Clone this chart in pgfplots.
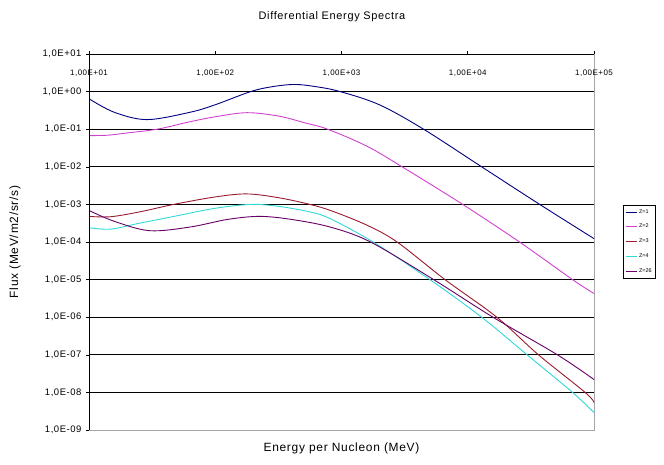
\documentclass[border=0pt]{standalone}
\usepackage{pgfplots}
\pgfplotsset{compat=1.18}
\usepackage{fontspec}
\setmainfont{Liberation Sans}
\newfontfamily\widefont[LetterSpace=6]{Liberation Sans}
\definecolor{zA}{HTML}{000080}
\definecolor{zB}{HTML}{D040D0}
\definecolor{zC}{HTML}{9B1B30}
\definecolor{zD}{HTML}{30D8D8}
\definecolor{zE}{HTML}{660066}
\begin{document}
\begin{tikzpicture}
\path[use as bounding box] (0,0) rectangle (664bp,465bp);
\begin{axis}[
  at={(89bp,35bp)}, anchor=south west,
  scale only axis, width=505bp, height=376bp,
  xmode=log, ymode=log,
  xmin=10, xmax=100000, ymin=1e-9, ymax=10,
  axis line style={gray!70, line width=0.6bp},
  tick align=outside, major tick length=3bp,
  tick style={black, line width=0.6bp},
  minor tick num=0, minor x tick style={draw=none}, minor y tick style={draw=none},
  xtick={10,100,1000,10000,100000},
  xticklabels={{1,00E+01},{1,00E+02},{1,00E+03},{1,00E+04},{1,00E+05}},
  xtick pos=upper, xticklabel pos=upper,
  xticklabel style={anchor=north, yshift=-15bp, font=\widefont\fontsize{8}{9}\selectfont},
  ytick={1e-9,1e-8,1e-7,1e-6,1e-5,1e-4,1e-3,1e-2,1e-1,1,10},
  yticklabels={{1,0E-09},{1,0E-08},{1,0E-07},{1,0E-06},{1,0E-05},{1,0E-04},{1,0E-03},{1,0E-02},{1,0E-01},{1,0E+00},{1,0E+01}},
  ytick pos=left,
  yticklabel style={font=\widefont\fontsize{9.5}{10}\selectfont, xshift=-1bp},
  extra y ticks={1e-8,1e-7,1e-6,1e-5,1e-4,1e-3,1e-2,1e-1,1,10},
  extra y tick labels={},
  extra y tick style={grid=major, major tick length=0pt},
  grid style={black, line width=0.9bp},
  title={Differential Energy Spectra},
  title style={at={(axis description cs:0.481,1.083)}, anchor=center, yshift=0pt, font=\widefont\fontsize{11}{12}\selectfont},
  xlabel={Energy per Nucleon (MeV)},
  xlabel style={at={(axis description cs:0.5,-0.05)}, anchor=center, font=\widefont\fontsize{12}{13}\selectfont},
  ylabel={Flux (MeV/m2/sr/s)},
  ylabel style={at={(axis description cs:-0.1465,0.5)}, anchor=center, font=\widefont\fontsize{12}{13}\selectfont},
  legend style={at={(1.057,0.598)}, anchor=north west, font=\fontsize{5.5}{6}\selectfont,
    draw=black, line width=0.5bp, inner sep=2bp, row sep=5.5bp},
  legend cell align=left,
  legend image code/.code={\draw[#1, line width=1bp] (0bp,0bp) -- (11bp,0bp);},
  every axis plot/.append style={line width=0.9bp, smooth, tension=0.55},
  clip=true,
]
\addplot[zA] coordinates {
 (10,0.646) (15.85,0.282) (28.8,0.180) (63.1,0.282) (100,0.447) (190.5,1.0)
 (281.8,1.349) (426.6,1.549) (631,1.349) (977,1.0) (1995,0.447) (4467,0.1)
 (12882,0.01) (37154,0.001) (100000,1.23e-4)};
\addlegendentry{Z=1}
\addplot[zB] coordinates {
 (10,0.0676) (14.1,0.0692) (19.95,0.0794) (34.7,0.1) (63.1,0.158) (100,0.214)
 (177.8,0.275) (316.2,0.224) (501,0.151) (776,0.1) (1585,0.0355) (3020,0.01)
 (9120,0.001) (25704,1e-4) (67608,1e-5) (100000,4.27e-6)};
\addlegendentry{Z=2}
\addplot[zC] coordinates {
 (10,4.8e-4) (14.8,4.7e-4) (25.1,6.3e-4) (46.8,1e-3) (100,1.58e-3)
 (177.8,1.9e-3) (316.2,1.51e-3) (562,1e-3) (831,6.76e-4) (1585,2.82e-4)
 (2754,1e-4) (6607,1e-5) (16982,1e-6) (36308,1e-7) (85114,1e-8) (100000,5.4e-9)};
\addlegendentry{Z=3}
\addplot[zD] coordinates {
 (10,2.4e-4) (14.8,2.2e-4) (25.1,3.16e-4) (50.1,5.0e-4) (100,7.9e-4)
 (190.5,1e-3) (316.2,8.9e-4) (562,6.3e-4) (813,4.17e-4) (1778,1e-4)
 (5012,1e-5) (12882,1e-6) (29512,1e-7) (67608,1e-8) (100000,2.9e-9)};
\addlegendentry{Z=4}
\addplot[zE] coordinates {
 (10,6.9e-4) (15.85,3.55e-4) (30.2,2.0e-4) (63.1,2.5e-4) (125.9,4.0e-4)
 (223.9,4.8e-4) (398,4.0e-4) (813,2.5e-4) (1698,1e-4) (5370,1e-5)
 (15849,1e-6) (51286,1e-7) (100000,2.2e-8)};
\addlegendentry{Z=26}
\draw[black, line width=0.8bp] (rel axis cs:0,0) -- (rel axis cs:0,1);
\end{axis}
\end{tikzpicture}
\end{document}
